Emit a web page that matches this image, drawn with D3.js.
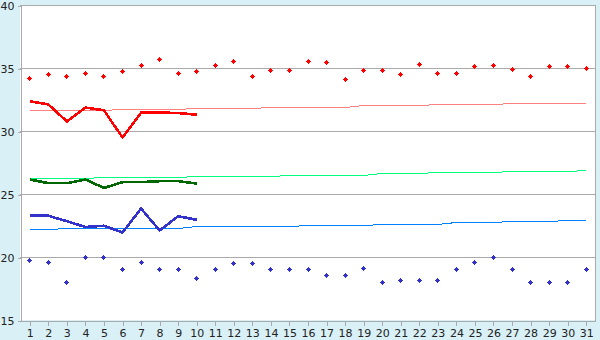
<!DOCTYPE html>
<html>
<head>
<meta charset="utf-8">
<script src="https://cdn.jsdelivr.net/npm/d3@7"></script>
<style>
  body { margin: 0; background: #d9f0f7; }
  svg { display: block; }
  .tick-label { font-family: "DejaVu Sans", Verdana, sans-serif; font-size: 11px; fill: #222; }
</style>
</head>
<body>
<div id="chart"></div>
<script>
// days of the month
const days = d3.range(1, 32);
const yTicks = [15, 20, 25, 30, 35, 40];

// record highs / lows (markers)
const recordMax = [34.18, 34.5, 34.34, 34.6, 34.34, 34.8, 35.2, 35.69, 34.6, 34.76, 35.21, 35.53, 34.34, 34.81, 34.81, 35.53,
  35.45, 34.1, 34.81, 34.81, 34.5, 35.29, 34.58, 34.58, 35.13, 35.21, 34.9, 34.34, 35.13, 35.13, 34.98];
const recordMin = [19.74, 19.58, 17.99, 19.98, 19.98, 19.02, 19.58, 19.02, 19.02, 18.31, 19.02, 19.5, 19.5, 19.02, 19.02, 19.02,
  18.55, 18.55, 19.1, 17.99, 18.15, 18.15, 18.15, 19.02, 19.58, 19.98, 19.02, 17.99, 17.99, 17.99, 19.02];

// normals (thin lines)
const normalMax = [31.67, 31.67, 31.67, 31.67, 31.67, 31.75, 31.75, 31.75, 31.75, 31.83, 31.83, 31.83, 31.83, 31.9, 31.9, 31.9,
  31.9, 31.9, 32.06, 32.06, 32.06, 32.06, 32.14, 32.14, 32.14, 32.14, 32.22, 32.22, 32.22, 32.22, 32.22];
const normalMean = [26.27, 26.27, 26.27, 26.27, 26.35, 26.35, 26.35, 26.35, 26.35, 26.43, 26.43, 26.43, 26.43, 26.43, 26.51, 26.51,
  26.51, 26.51, 26.51, 26.67, 26.67, 26.67, 26.75, 26.75, 26.75, 26.75, 26.83, 26.83, 26.83, 26.83, 26.9];
const normalMin = [22.22, 22.22, 22.3, 22.3, 22.3, 22.3, 22.3, 22.3, 22.3, 22.46, 22.46, 22.46, 22.46, 22.46, 22.46, 22.54,
  22.54, 22.54, 22.54, 22.62, 22.62, 22.62, 22.62, 22.78, 22.78, 22.78, 22.86, 22.86, 22.86, 22.94, 22.94];

// observed this month (days 1-10)
const obsMax = [32.4, 32.15, 30.8, 31.9, 31.68, 29.52, 31.5, 31.5, 31.47, 31.33];
const obsMean = [26.19, 25.9, 25.9, 26.19, 25.52, 25.98, 25.98, 26.06, 26.06, 25.87];
const obsMin = [23.31, 23.31, 22.88, 22.42, 22.52, 21.98, 23.89, 22.14, 23.28, 22.99];

var width = 600;
var height = 340;
var plotLeft = 20, plotRight = 595, plotTop = 5, plotBottom = 320;

var svg = d3.select("#chart").append("svg")
  .attr("width", width)
  .attr("height", height);

var x = d3.scaleLinear().domain([0.5, 31.5]).range([plotLeft + 0.5, plotRight + 0.5]);
var y = d3.scaleLinear().domain([15, 40]).range([plotBottom + 0.5, plotTop + 0.5]);

// plot background
svg.append("rect")
  .attr("x", plotLeft).attr("y", plotTop)
  .attr("width", plotRight - plotLeft).attr("height", plotBottom - plotTop)
  .attr("fill", "#fff");

// grid lines
svg.append("g").selectAll("line")
  .data(yTicks.slice(1))
  .enter().append("line")
  .attr("x1", plotLeft).attr("x2", plotRight + 1)
  .attr("y1", d => Math.floor(y(d)) + 0.5)
  .attr("y2", d => Math.floor(y(d)) + 0.5)
  .attr("stroke", "#aaa")
  .attr("shape-rendering", "crispEdges");

// right border
svg.append("line")
  .attr("x1", plotRight + 0.5).attr("x2", plotRight + 0.5)
  .attr("y1", plotTop).attr("y2", plotBottom + 1)
  .attr("stroke", "#aaa").attr("shape-rendering", "crispEdges");

var yAxis = svg.append("g")
  .attr("transform", `translate(${plotLeft + 0.5},0)`)
  .call(d3.axisLeft(y).tickValues(yTicks).tickSize(3).tickPadding(3).tickSizeOuter(0));

var xAxis = svg.append("g")
  .attr("transform", `translate(0,${plotBottom + 0.5})`)
  .call(d3.axisBottom(x).tickValues(days).tickSize(5).tickPadding(3).tickSizeOuter(0));

[yAxis, xAxis].forEach(function(ax) {
  ax.attr("font-family", null).attr("font-size", null);
  ax.select(".domain").attr("stroke", "#aaa").attr("shape-rendering", "crispEdges");
  ax.selectAll(".tick line").attr("stroke", "#aaa").attr("shape-rendering", "crispEdges");
  ax.selectAll(".tick text").attr("class", "tick-label").attr("fill", null);
});
xAxis.selectAll(".tick text").attr("dy", "0.74em");

var line = d3.line()
  .x((d, i) => x(i + 1))
  .y(d => y(d));

// thin normal lines
var thin = [[normalMax, "#ff8080"], [normalMean, "#00ff80"], [normalMin, "#0080ff"]];
thin.forEach(function(t) {
  svg.append("path")
    .attr("d", line(t[0]))
    .attr("fill", "none")
    .attr("stroke", t[1])
    .attr("stroke-width", 1)
    .attr("shape-rendering", "crispEdges");
});

// observed lines
var thick = [[obsMax, "#ff0000"], [obsMean, "#006600"], [obsMin, "#3333cc"]];
thick.forEach(function(t) {
  svg.append("path")
    .attr("d", line(t[0]))
    .attr("fill", "none")
    .attr("stroke", t[1])
    .attr("stroke-width", 2.6)
    .attr("stroke-linejoin", "round")
    .attr("shape-rendering", "crispEdges");
});

// pixel diamond marker
var diamond = "M-0.5,-2.5h1v1h1v1h1v1h-1v1h-1v1h-1v-1h-1v-1h-1v-1h1v-1h1z";

function markers(data, color) {
  svg.append("g").selectAll("path")
    .data(data)
    .enter().append("path")
    .attr("d", diamond)
    .attr("transform", (d, i) => `translate(${Math.floor(x(i + 1)) + 0.5},${Math.floor(y(d)) + 0.5})`)
    .attr("fill", color)
    .attr("shape-rendering", "crispEdges");
}
markers(recordMax, "#ff0000");
markers(recordMin, "#3333cc");
</script>
</body>
</html>
